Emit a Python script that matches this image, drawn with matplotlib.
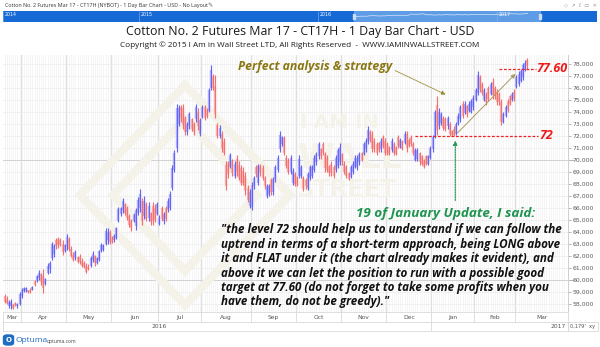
import numpy as np
import pandas as pd
import matplotlib
matplotlib.use('Agg')
import matplotlib.pyplot as plt
from matplotlib.patches import Rectangle, FancyBboxPatch, Polygon

# daily bars, prices in thousands (78.5 -> 78,500)
highs = [58.8, 58.7, 58.3, 58.4, 58.0, 58.2, 58.1, 59.0, 59.3, 59.4,
         59.4, 59.2, 59.3, 59.5, 60.0, 60.4, 60.8, 60.6, 60.9, 60.2,
         61.4, 61.6, 63.2, 63.0, 63.5, 63.6, 63.5, 63.3, 63.0, 63.8,
         63.6, 62.8, 62.3, 62.5, 62.0, 62.2, 61.8, 61.6, 61.4, 61.3,
         62.0, 62.4, 62.1, 61.9, 62.5, 63.1, 63.0, 64.3, 64.3, 64.2,
         63.7, 63.8, 64.4, 66.1, 66.1, 66.8, 66.4, 66.2, 65.5, 65.1,
         65.6, 66.0, 66.9, 67.6, 66.8, 67.0, 66.5, 66.5, 65.7, 66.5,
         66.3, 66.5, 65.4, 66.2, 65.7, 66.2, 66.8, 67.4, 69.6, 70.8,
         74.7, 74.6, 74.6, 74.7, 73.7, 73.2, 74.0, 73.5, 73.2, 74.7,
         74.3, 73.5, 74.6, 74.6, 74.3, 76.0, 77.9, 77.2, 77.1, 73.1,
         72.9, 72.4, 71.8, 69.9, 69.9, 70.6, 70.1, 69.9, 70.4, 69.9,
         69.6, 69.4, 69.0, 67.9, 67.6, 68.2, 68.7, 69.6, 69.7, 69.7,
         69.6, 68.7, 68.0, 68.0, 68.5, 68.6, 69.6, 70.4, 72.4, 72.0,
         72.0, 70.4, 70.2, 70.4, 69.3, 69.0, 68.7, 70.4, 69.6, 68.7,
         68.5, 69.0, 69.6, 69.6, 70.4, 70.7, 71.5, 71.0, 71.5, 70.7,
         70.4, 69.6, 69.9, 69.6, 70.4, 71.0, 71.4, 70.6, 69.9, 69.6,
         69.0, 69.6, 69.9, 70.4, 70.4, 70.7, 70.7, 71.5, 71.8, 72.8,
         72.5, 72.4, 71.8, 71.5, 71.5, 71.8, 72.1, 71.8, 71.5, 71.2,
         71.8, 71.5, 71.2, 72.1, 71.8, 71.7, 72.4, 72.4, 71.8, 72.1,
         71.5, 71.0, 71.0, 70.7, 70.4, 70.1, 70.4, 70.4, 71.2, 72.1,
         74.2, 75.3, 74.3, 74.0, 73.7, 73.6, 73.7, 73.2, 72.5, 72.8,
         73.2, 73.9, 74.6, 74.9, 74.9, 74.6, 74.9, 75.1, 75.4, 76.0,
         77.4, 77.1, 76.5, 76.0, 75.7, 76.2, 76.5, 76.8, 76.2, 75.9,
         75.7, 75.1, 74.0, 74.6, 75.1, 75.4, 75.7, 75.9, 77.1, 77.4,
         77.6, 78.1, 78.3, 78.5]
lows = [58.1, 58.0, 57.7, 57.6, 57.6, 57.8, 57.7, 57.9, 58.5, 59.0,
        59.0, 58.9, 58.9, 59.2, 59.5, 59.8, 60.0, 59.6, 58.9, 59.6,
        60.5, 60.6, 61.7, 61.9, 62.6, 62.7, 62.8, 62.1, 62.3, 62.5,
        62.4, 61.9, 61.6, 61.7, 61.4, 61.3, 61.1, 61.0, 60.6, 60.8,
        61.1, 61.5, 61.2, 61.3, 61.6, 62.3, 62.4, 62.9, 63.0, 63.0,
        63.1, 63.2, 63.4, 64.8, 65.3, 65.6, 65.4, 65.0, 64.4, 64.1,
        64.8, 64.2, 65.4, 65.7, 64.6, 65.1, 64.9, 64.9, 64.6, 64.6,
        64.8, 65.4, 64.6, 64.9, 64.7, 64.9, 65.7, 65.8, 67.5, 69.0,
        70.7, 72.8, 73.2, 72.6, 72.1, 72.1, 72.6, 72.4, 72.1, 73.2,
        72.5, 72.0, 73.5, 73.3, 73.5, 74.0, 75.8, 75.8, 73.5, 71.8,
        71.8, 70.7, 70.4, 67.5, 68.5, 69.3, 68.7, 68.5, 68.7, 68.3,
        67.9, 67.9, 67.1, 66.5, 66.0, 65.8, 67.6, 68.6, 67.9, 68.7,
        68.3, 67.6, 66.8, 67.0, 67.1, 67.1, 68.2, 69.0, 70.7, 71.2,
        70.4, 69.3, 68.8, 68.8, 67.9, 67.8, 67.8, 68.5, 68.5, 67.4,
        67.6, 67.5, 68.3, 68.5, 69.0, 69.6, 70.1, 70.1, 70.4, 69.0,
        69.0, 68.7, 68.7, 68.5, 69.0, 69.3, 69.6, 69.6, 68.8, 68.5,
        68.3, 68.5, 68.8, 69.3, 69.2, 69.6, 69.9, 70.4, 70.7, 71.3,
        71.5, 70.7, 70.7, 70.4, 70.7, 70.7, 71.0, 70.4, 70.4, 70.4,
        70.7, 70.4, 70.4, 71.0, 71.0, 70.8, 71.3, 70.7, 71.1, 71.2,
        70.4, 69.9, 69.9, 69.6, 69.6, 69.3, 69.6, 69.6, 70.1, 70.7,
        71.8, 72.1, 72.6, 72.9, 72.5, 72.4, 72.6, 72.0, 72.0, 72.0,
        72.1, 72.9, 73.2, 73.5, 73.8, 73.6, 74.0, 73.9, 74.2, 74.9,
        75.4, 75.7, 75.4, 74.9, 74.6, 74.9, 75.4, 75.1, 75.1, 74.6,
        74.6, 72.9, 73.1, 73.6, 74.0, 74.6, 74.9, 74.9, 76.0, 76.2,
        76.5, 76.7, 77.4, 77.6]
opens = [58.7, 58.4, 57.8, 57.8, 58.0, 58.1, 57.8, 58.0, 58.7, 59.1,
         59.1, 59.2, 59.2, 59.2, 59.9, 59.9, 60.2, 60.5, 60.3, 59.7,
         60.6, 60.9, 61.8, 62.2, 63.3, 63.4, 63.3, 63.0, 62.4, 62.8,
         63.4, 62.6, 62.1, 61.8, 61.9, 61.9, 61.6, 61.4, 61.2, 61.1,
         61.2, 61.7, 62.0, 61.4, 61.7, 62.4, 62.5, 63.0, 63.3, 64.0,
         63.6, 63.3, 63.5, 64.9, 65.5, 65.8, 66.3, 66.0, 65.3, 65.0,
         64.9, 64.5, 65.6, 66.0, 66.6, 65.3, 66.3, 65.2, 65.6, 66.2,
         66.0, 65.5, 64.7, 66.0, 64.9, 66.0, 65.8, 66.0, 67.7, 69.2,
         71.0, 73.0, 74.4, 74.3, 73.5, 72.3, 72.8, 73.4, 73.0, 73.4,
         74.0, 72.2, 73.6, 74.4, 74.2, 74.1, 76.0, 77.0, 76.2, 72.9,
         72.0, 72.2, 71.5, 69.6, 69.7, 69.4, 69.9, 68.7, 70.1, 69.6,
         69.3, 69.1, 68.7, 67.7, 66.2, 66.1, 67.8, 69.4, 68.1, 69.5,
         69.3, 68.5, 67.0, 67.2, 68.3, 67.3, 68.4, 69.2, 70.9, 71.3,
         71.8, 70.2, 70.0, 69.0, 68.1, 68.8, 68.6, 68.7, 68.7, 68.5,
         68.3, 67.7, 68.5, 68.7, 69.2, 69.8, 70.3, 70.9, 71.3, 70.5,
         70.2, 69.5, 69.7, 69.4, 69.2, 69.5, 69.8, 70.5, 69.7, 69.4,
         68.9, 68.6, 69.0, 69.4, 69.4, 69.8, 70.6, 70.5, 70.9, 71.5,
         72.3, 72.1, 71.6, 71.3, 71.4, 70.9, 71.9, 71.6, 71.3, 71.1,
         70.8, 71.3, 71.1, 71.9, 71.1, 71.6, 71.4, 72.2, 71.7, 71.9,
         71.3, 70.0, 70.1, 70.6, 70.3, 70.0, 70.3, 69.7, 70.2, 70.9,
         72.0, 74.6, 72.8, 73.1, 73.5, 73.4, 72.8, 73.0, 72.4, 72.6,
         72.2, 73.0, 73.4, 74.7, 73.9, 74.5, 74.1, 74.0, 74.4, 75.0,
         75.6, 76.9, 76.3, 75.0, 75.5, 76.0, 75.5, 76.5, 76.0, 75.7,
         75.5, 74.8, 73.2, 73.7, 74.9, 75.3, 75.0, 75.7, 76.1, 76.3,
         76.6, 76.9, 77.5, 78.3]
closes = [58.2, 58.1, 58.2, 58.2, 57.7, 57.9, 58.0, 58.8, 59.2, 59.3,
          59.3, 59.0, 59.0, 59.4, 59.6, 60.3, 60.6, 59.8, 59.3, 60.1,
          61.2, 61.4, 63.0, 62.8, 62.8, 62.9, 62.9, 62.3, 62.9, 63.6,
          62.6, 62.0, 61.7, 62.3, 61.5, 61.5, 61.2, 61.1, 60.7, 60.9,
          61.8, 62.2, 61.4, 61.8, 62.4, 62.9, 62.9, 64.1, 64.0, 63.2,
          63.2, 63.7, 64.3, 65.9, 66.0, 66.6, 65.6, 65.2, 64.6, 64.3,
          65.4, 65.8, 66.7, 67.2, 64.9, 66.6, 65.1, 66.2, 64.8, 64.9,
          65.0, 66.3, 65.2, 65.1, 65.5, 65.1, 66.6, 67.2, 69.3, 70.6,
          74.3, 74.3, 73.5, 72.9, 72.3, 73.0, 73.8, 72.6, 72.3, 74.4,
          72.8, 73.3, 74.4, 73.5, 73.7, 75.8, 77.5, 76.0, 73.8, 72.0,
          72.7, 70.9, 70.6, 67.8, 68.8, 70.4, 68.9, 69.7, 69.0, 68.5,
          68.1, 68.1, 67.4, 66.7, 67.3, 67.9, 68.5, 68.8, 69.5, 68.9,
          68.5, 67.8, 67.8, 67.8, 67.3, 68.4, 69.4, 70.2, 72.1, 71.9,
          70.6, 69.5, 69.0, 70.2, 69.1, 68.0, 67.9, 70.1, 69.4, 67.6,
          67.8, 68.8, 69.4, 69.4, 70.2, 70.5, 71.3, 70.3, 70.6, 69.3,
          69.2, 68.9, 68.9, 68.7, 70.2, 70.8, 71.1, 69.8, 69.0, 68.7,
          68.4, 69.4, 69.7, 70.2, 70.2, 70.5, 70.0, 71.3, 71.6, 72.5,
          71.7, 70.9, 70.9, 70.6, 70.8, 71.6, 71.2, 70.6, 70.6, 70.5,
          71.6, 70.6, 70.5, 71.2, 71.7, 70.9, 72.2, 71.0, 71.2, 71.3,
          70.6, 70.8, 70.8, 69.8, 69.7, 69.4, 69.7, 70.3, 71.0, 71.9,
          74.0, 72.5, 74.0, 73.8, 72.7, 72.6, 73.5, 72.2, 72.1, 72.1,
          73.0, 73.7, 74.4, 73.7, 74.7, 73.8, 74.7, 74.9, 75.2, 75.8,
          77.1, 75.9, 75.6, 75.8, 74.8, 75.1, 76.3, 75.4, 75.3, 74.8,
          74.8, 73.2, 73.8, 74.4, 74.2, 74.7, 75.5, 75.1, 76.9, 77.2,
          77.4, 77.9, 78.1, 77.8]

holidays = ['2016-03-25', '2016-05-30', '2016-07-04', '2016-09-05', '2016-11-24',
            '2016-12-26', '2017-01-02', '2017-01-16', '2017-02-20']
price_ticks = np.arange(58, 79)
level_support = 72.0
level_target = 77.60
update_day = '2017-01-19'

title = "Cotton No. 2 Futures Mar 17 - CT17H - 1 Day Bar Chart - USD"
subtitle = "Copyright \u00a9 2015 I Am in Wall Street LTD, All Rights Reserved  -  WWW.IAMINWALLSTREET.COM"
window_title = "Cotton No. 2 Futures Mar 17 - CT17H (NYBOT) - 1 Day Bar Chart - USD - No Layout"
quote_lines = [
    '"the level 72 should help us to understand if we can follow the',
    'uptrend in terms of a short-term approach, being LONG above',
    'it and FLAT under it (the chart already makes it evident), and',
    'above it we can let the position to run with a possible good',
    'target at 77.60 (do not forget to take some profits when you',
    'have them, do not be greedy)."',
]

# trading calendar, running on past the last bar to the end of March 2017
days = pd.bdate_range('2016-03-21', '2017-03-31')
days = days[~days.isin(pd.to_datetime(holidays))]
n = len(highs)
idx = np.arange(n)
o = np.array(opens); h = np.array(highs); l = np.array(lows); c = np.array(closes)
up = c >= o

W, H = 600.0, 347.0
def fx(x):
    return x / W
def fy(y):
    return 1 - y / H

def day_index(d):
    return int(np.where(days == pd.Timestamp(d))[0][0])

fig = plt.figure(figsize=(6.0, 3.47), dpi=100)
fig.patch.set_facecolor('white')
ann = dict(family='Open Sans', style='italic', weight='bold')

# ---- main price panel
ax = fig.add_axes([fx(3), fy(312), 565 / W, 257 / H])
xmin, xmax = -0.7, 262.0
ax.set_xlim(xmin, xmax)
ax.set_ylim(57.333, 78.75)

# grid: faint line per day, darker at month starts
ax.vlines(np.arange(len(days)), 57, 79, color='#f1f1f1', lw=0.5, zorder=0)
month_start = [i for i in range(1, len(days)) if days[i].month != days[i - 1].month]
bounds = [i - 0.5 for i in month_start]
ax.vlines(bounds, 57, 79, color='#dadada', lw=0.6, zorder=0)
for p in price_ticks:
    ax.axhline(p, color='#d2d2d2' if p % 10 == 0 else '#ececec', lw=0.7 if p % 10 == 0 else 0.5, zorder=0)

# watermark logo
wm = '#f5f2ea'
def wpt(x, y):
    return ((x - 3) / 565, (312 - y) / 257)
for cx, cy, hw, hh in [(185, 195, 105, 110), (185, 195, 72, 76)]:
    ax.add_patch(Polygon([wpt(cx - hw, cy), wpt(cx, cy - hh), wpt(cx + hw, cy), wpt(cx, cy + hh)],
                         closed=True, fill=False, ec=wm, lw=6, transform=ax.transAxes, zorder=0.5))
ax.text(*wpt(300, 122), 'I AM IN', transform=ax.transAxes, fontsize=14, color=wm,
        weight='bold', ha='left', va='center', zorder=0.5)
ax.text(*wpt(298, 158), 'WALL', transform=ax.transAxes, fontsize=24, color=wm,
        weight='bold', ha='left', va='center', zorder=0.5)
ax.text(*wpt(296, 190), 'STREET', transform=ax.transAxes, fontsize=17, color=wm,
        weight='bold', ha='left', va='center', zorder=0.5)

# bars: pale open/close body under a thin high-low line
body_lo = np.minimum(o, c); body_hi = np.maximum(o, c)
ax.vlines(idx[up], body_lo[up], body_hi[up], color='#b6b6fb', lw=1.7, zorder=2)
ax.vlines(idx[~up], body_lo[~up], body_hi[~up], color='#f9b8b8', lw=1.7, zorder=2)
ax.vlines(idx[up], l[up], h[up], color='#6464f2', lw=0.85, zorder=3)
ax.vlines(idx[~up], l[~up], h[~up], color='#f26f6f', lw=0.85, zorder=3)

# right price scale
ax.yaxis.tick_right()
ax.set_yticks(price_ticks)
ax.set_yticklabels([f"{int(p * 1000):,}" for p in price_ticks])
ax.tick_params(axis='y', labelsize=4.4, labelcolor='#5a5a5a', length=2.2, width=0.5,
               color='#999999', pad=1.2)
for t, p in zip(ax.yaxis.get_major_ticks(), price_ticks):
    if p % 10 == 0:
        t.tick2line.set_markersize(4.5)
ax.set_xticks([])
for s in ['top', 'left', 'bottom']:
    ax.spines[s].set_visible(False)
ax.spines['right'].set_color('#cfcfcf')
ax.spines['right'].set_linewidth(0.7)

# ---- annotations
k_update = day_index(update_day)
k_sup0, k_sup1 = day_index('2016-12-20'), day_index('2017-03-15')
k_tgt0, k_tgt1 = day_index('2017-02-16'), day_index('2017-03-14')

ax.plot([k_sup0, k_sup1], [level_support] * 2, color='#ee2020', lw=0.9, ls=(0, (2.2, 1.4)), zorder=4)
ax.plot([k_tgt0, k_tgt1], [level_target] * 2, color='#ee2020', lw=0.9, ls=(0, (2.2, 1.4)), zorder=4)
ax.text(k_sup1 + 0.8, level_support, '72', color='#ee1b1b', fontsize=9, va='center', ha='left', **ann)
ax.text(k_tgt1 + 0.2, level_target, '77.60', color='#ee1b1b', fontsize=9, va='center', ha='left', **ann)

ax.annotate('', xy=(238.5, 77.35), xytext=(k_update - 0.2, 72.1),
            arrowprops=dict(arrowstyle='-|>', color='#a99b5e', lw=0.7, mutation_scale=6), zorder=5)
ax.annotate('', xy=(206.3, 75.35), xytext=(180.5, 77.55),
            arrowprops=dict(arrowstyle='-|>', color='#9c8b3a', lw=0.7, ls=(0, (1, 1)),
                            mutation_scale=6), zorder=5)
ax.annotate('', xy=(k_update - 0.4, 71.85), xytext=(k_update - 0.4, 66.4),
            arrowprops=dict(arrowstyle='-|>', color='#2a9a5a', lw=0.9, ls=(0, (1, 1)),
                            mutation_scale=6), zorder=5)

ax.text(0.416, 0.955, 'Perfect analysis & strategy', transform=ax.transAxes,
        color='#8a7713', fontsize=8.8, va='center', ha='left', **ann)
ax.text(0.625, 0.384, '19 of January Update, I said:', transform=ax.transAxes,
        color='#1e9450', fontsize=9.7, va='center', ha='left', **ann)
for j, line in enumerate(quote_lines):
    fig.text(fx(221), fy(230 + 14.4 * j), line, color='#111111', fontsize=8.4,
             va='center', ha='left', **ann)

# ---- date scale: months, then years
ax_m = fig.add_axes([fx(3), fy(322), 565 / W, 10 / H])
ax_y = fig.add_axes([fx(3), fy(331), 565 / W, 9 / H])
for a in (ax_m, ax_y):
    a.set_xlim(xmin, xmax)
    a.set_ylim(0, 1)
    a.set_xticks([]); a.set_yticks([])
    for s in a.spines.values():
        s.set_color('#d9d9d9'); s.set_linewidth(0.6)
ax_m.vlines(bounds, 0, 1, color='#d9d9d9', lw=0.6)
edges = [xmin] + bounds + [xmax]
starts = [0] + month_start
for j in range(len(edges) - 1):
    ax_m.text((edges[j] + edges[j + 1]) / 2, 0.45, days[starts[j]].strftime('%b'),
              fontsize=4.3, color='#555555', ha='center', va='center')
k_year = day_index('2017-01-03')
k_mid = day_index('2016-07-01')
ax_y.vlines([k_year - 0.5], 0, 1, color='#d9d9d9', lw=0.6)
ax_y.text(k_mid, 0.45, '2016', fontsize=4.3, color='#555555', ha='center', va='center')
ax_y.text(xmax - 1, 0.45, '2017', fontsize=4.3, color='#555555', ha='right', va='center')
fig.text(fx(570), fy(326.5), "0,179'  xy", fontsize=3.6, color='#555555', va='center')
fig.patches.append(Rectangle((fx(568), fy(331)), 30 / W, 9 / H, transform=fig.transFigure,
                             fill=False, ec='#d9d9d9', lw=0.6))

# ---- header
fig.text(fx(5), fy(5.5), window_title, fontsize=3.9, color='#333333', va='center', family='Open Sans')
fig.text(fx(207), fy(5.5), '\u270e', fontsize=4.5, color='#666666', va='center')
fig.text(fx(597), fy(5.5), '\u25c7  \u2197  \u2113  \u25ad  \u2715', fontsize=3.8, color='#9a9a9a',
         va='center', ha='right', family='DejaVu Sans')

ax_nav = fig.add_axes([fx(3), fy(22), 594 / W, 11 / H])
ax_nav.set_xlim(0, 594)
ax_nav.set_ylim(0, 1)
ax_nav.axis('off')
ax_nav.add_patch(Rectangle((0, 0), 594, 1, color='#1769d6'))
ax_nav.add_patch(Rectangle((351, 0), 186, 1, color='#5f9ce6'))
for xp, yr in [(0, '2014'), (136, '2015'), (315, '2016'), (494, '2017')]:
    ax_nav.vlines(xp, 0, 1, color='#8ab4ee', lw=0.4)
    ax_nav.text(xp + 2, 0.72, yr, fontsize=3.4, color='white', va='center')
for xp in (351, 537):
    ax_nav.add_patch(Rectangle((xp - 1, 0.3), 2, 0.4, color='#c9dcf5'))
nav_x = 351 + idx / (len(days) - 1) * 186
ax_nav.plot(nav_x, (c - 20) / 75, color='#d8e6f8', lw=0.5)

fig.text(0.5, fy(31), title, fontsize=8.9, color='#1a1a1a', ha='center', va='center', family='Open Sans')
fig.text(0.5, fy(45.5), subtitle, fontsize=5.85, color='#1a1a1a', ha='center', va='center', family='Open Sans')

# ---- footer logo
fig.patches.append(FancyBboxPatch((fx(3.5), fy(345)), 10 / W, 10 / H, boxstyle='round,pad=0,rounding_size=0.006',
                                  transform=fig.transFigure, color='#1f6cc4'))
fig.text(fx(8.5), fy(340), 'O', fontsize=5, color='white', ha='center', va='center', weight='bold')
fig.text(fx(15), fy(340), 'Optuma', fontsize=6.0, color='#1f6cc4', va='center', family='Open Sans')
fig.text(fx(47), fy(341), 'optuma.com', fontsize=3.6, color='#444444', va='center', family='Open Sans')

fig.savefig('out.png', dpi=100)
